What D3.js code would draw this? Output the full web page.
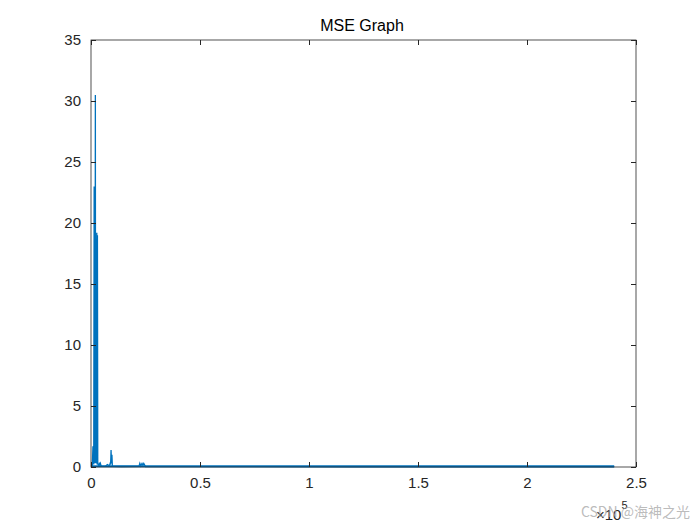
<!DOCTYPE html>
<head>
<style>
  body { margin: 0; background: #fff; }
  text { font-family: "Liberation Sans", Arial, sans-serif; }
</style>
</head>
<body>
<script src="https://cdn.jsdelivr.net/npm/d3@7"></script>
<script>

// iteration number and mse
var iters = [0, 600, 900, 1050, 1150, 1250, 1450, 1600, 1750, 1850, 2000, 2100, 2250, 2450, 2650, 2800, 2950, 3100, 3250, 3400, 3600, 3900, 4100, 4300, 4600, 5000, 6500, 7500, 8500, 8800, 9000, 9200, 9400, 9600, 9800, 10000, 14000, 22000, 22400, 22800, 23400, 23800, 24200, 25000, 60000, 120000, 180000, 240000];
var mse   = [0.05, 0.1, 1.7, 0.3, 1.7, 0.2, 23.0, 0.4, 23.0, 0.3, 30.5, 2.8, 2.6, 0.3, 19.2, 0.2, 19.0, 0.3, 0.2, 0.15, 0.1, 0.35, 0.2, 0.3, 0.1, 0.05, 0.05, 0.2, 0.1, 0.3, 0.2, 1.4, 0.3, 1.0, 0.1, 0.05, 0.04, 0.05, 0.3, 0.1, 0.3, 0.15, 0.3, 0.03, 0.03, 0.02, 0.02, 0.02];
var xTicks = [0, 50000, 100000, 150000, 200000, 250000];
var xTickLabels = ["0", "0.5", "1", "1.5", "2", "2.5"];
var yTicks = [0, 5, 10, 15, 20, 25, 30, 35];

var m = {t: 40, r: 64, b: 58, l: 91};
var W = 700, H = 525;
var w = W - m.l - m.r, h = H - m.t - m.b;

var svg = d3.select("body").append("svg").attr("width", W).attr("height", H);
var g = svg.append("g").attr("transform", "translate(" + m.l + "," + m.t + ")");

var x = d3.scaleLinear().domain([0, 250000]).range([0, w]);
var y = d3.scaleLinear().domain([0, 35]).range([h, 0]);

var data = iters.map(function(d, i) { return {x: d, y: mse[i]}; });

g.append("path")
  .datum(data)
  .attr("fill", "none")
  .attr("stroke", "#0072BD")
  .attr("stroke-width", 1.3)
  .attr("d", d3.line().x(function(d) { return x(d.x); }).y(function(d) { return y(d.y); }));
// thicker baseline like the dense trace
g.append("line")
  .attr("x1", x(0)).attr("x2", x(240000))
  .attr("y1", y(0.02) - 0.5).attr("y2", y(0.02) - 0.5)
  .attr("stroke", "#0072BD").attr("stroke-width", 2);

// box
g.append("rect").attr("width", w).attr("height", h)
  .attr("fill", "none").attr("stroke", "#262626").attr("stroke-width", 0.8);

var xAxis = d3.axisBottom(x).tickValues(xTicks)
  .tickFormat(function(d, i) { return xTickLabels[i]; })
  .tickSizeInner(-5).tickSizeOuter(0).tickPadding(10);
var xTop = d3.axisTop(x).tickValues(xTicks).tickFormat("").tickSizeInner(-5).tickSizeOuter(0);
var yAxis = d3.axisLeft(y).tickValues(yTicks).tickSizeInner(-5).tickSizeOuter(0).tickPadding(10);
var yRight = d3.axisRight(y).tickValues(yTicks).tickFormat("").tickSizeInner(-5).tickSizeOuter(0);

function style(sel) {
  sel.select(".domain").remove();
  sel.selectAll("line").attr("stroke", "#262626");
  sel.selectAll("text").attr("fill", "#262626").style("font-size", "15px");
}
g.append("g").attr("transform", "translate(0," + h + ")").call(xAxis).call(style);
g.append("g").call(xTop).call(style);
g.append("g").call(yAxis).call(style);
g.append("g").attr("transform", "translate(" + w + ",0)").call(yRight).call(style);

// exponent
var ex = svg.append("text").attr("x", 596).attr("y", 520).attr("fill", "#262626").style("font-size", "15px");
ex.append("tspan").text("\u00d710");
ex.append("tspan").attr("dy", -11).style("font-size", "11px").text("5");

svg.append("text").attr("x", W / 2 + 12).attr("y", 31).attr("text-anchor", "middle")
  .attr("fill", "#000").style("font-size", "16px").text("MSE Graph");

// watermark
svg.append("text").attr("x", 690).attr("y", 517).attr("text-anchor", "end")
  .attr("fill", "#aaa").attr("fill-opacity", 0.8)
  .style("font-family", "'Noto Sans CJK SC', sans-serif").style("font-size", "14px")
  .text("CSDN @海神之光");

</script>
</body>
